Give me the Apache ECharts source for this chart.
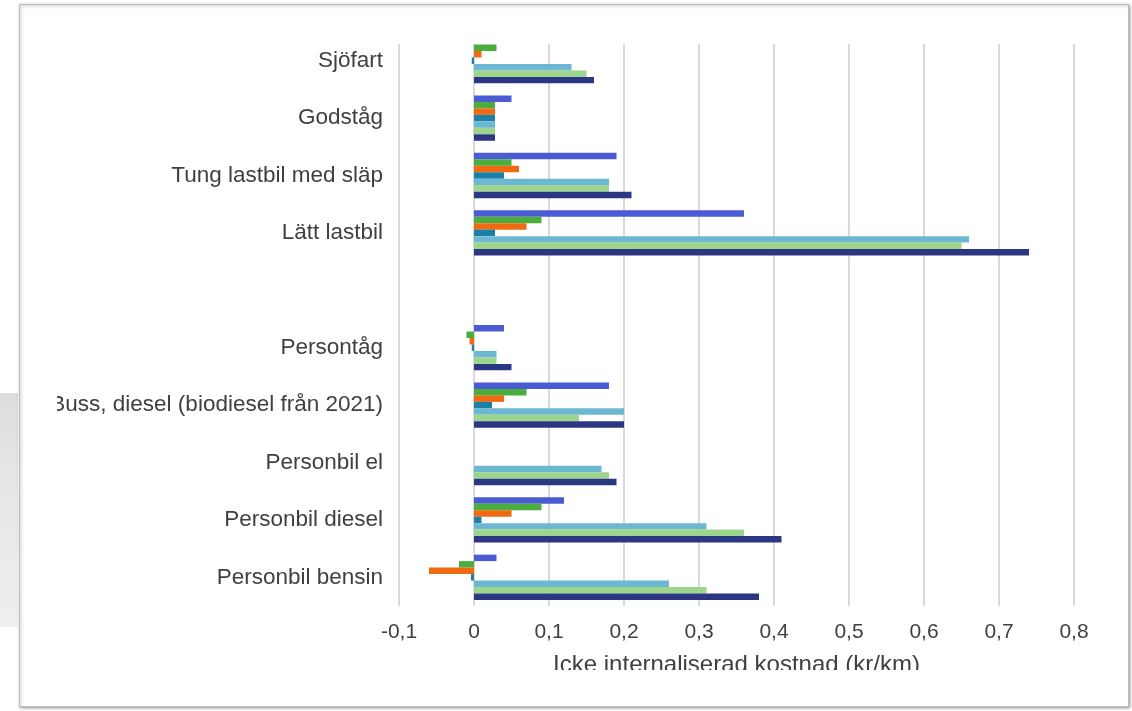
<!DOCTYPE html>
<html>
<head>
<meta charset="utf-8">
<script src="https://cdn.jsdelivr.net/npm/echarts@6/dist/echarts.min.js"></script>
<style>
  html, body { margin: 0; padding: 0; background: #ffffff; width: 1132px; height: 711px; overflow: hidden; }
  #side { position: absolute; left: 0; top: 393px; width: 18px; height: 234px;
          background: linear-gradient(180deg, #dcdcdc 0%, #e8e8e8 45%, #efefef 100%); }
  #card { position: absolute; left: 19px; top: 4px; width: 1108px; height: 701px;
          background: #ffffff; border: 1px solid #bdbdbd;
          box-shadow: 1px 1px 3px rgba(0,0,0,0.45), inset 2px 2px 3px rgba(0,0,0,0.12); }
  #clip { position: absolute; left: 57px; top: 44px; width: 1068px; height: 626px; overflow: hidden; }
  #chart { position: absolute; left: -57px; top: -44px; width: 1132px; height: 711px; }
</style>
</head>
<body>
<div id="side"></div>
<div id="card"></div>
<div id="clip"><div id="chart"></div></div>
<script>
// Transport modes, listed top to bottom; the empty entry separates freight from passenger traffic
const categories = ['Sjöfart', 'Godståg', 'Tung lastbil med släp', 'Lätt lastbil', '',
  'Persontåg', 'Buss, diesel (biodiesel från 2021)', 'Personbil el', 'Personbil diesel', 'Personbil bensin'];

// Non-internalised cost per km (kr/km), one array per cost series
const serieA = [0,      0.05,  0.19, 0.36,  null, 0.04,   0.18,  0,    0.12, 0.03];
const serieB = [0.03,   0.028, 0.05, 0.09,  null, -0.01,  0.07,  0,    0.09, -0.02];
const serieC = [0.01,   0.028, 0.06, 0.07,  null, -0.006, 0.04,  0,    0.05, -0.06];
const serieD = [-0.003, 0.028, 0.04, 0.028, null, -0.003, 0.024, 0,    0.01, -0.004];
const serieE = [0.13,   0.028, 0.18, 0.66,  null, 0.03,   0.2,   0.17, 0.31, 0.26];
const serieF = [0.15,   0.028, 0.18, 0.65,  null, 0.03,   0.14,  0.18, 0.36, 0.31];
const serieG = [0.16,   0.028, 0.21, 0.74,  null, 0.05,   0.2,   0.19, 0.41, 0.38];

const xTicks = [-0.1, 0, 0.1, 0.2, 0.3, 0.4, 0.5, 0.6, 0.7, 0.8];
const axisTitle = 'Icke internaliserad kostnad (kr/km)';

const seriesData = [serieA, serieB, serieC, serieD, serieE, serieF, serieG];
const colors = ['#4b5bd4', '#4aad3c', '#ef6a12', '#1c7fa6', '#6cb8d3', '#9dd58c', '#2c3784'];

const font = "'Liberation Sans', Arial, sans-serif";
const chart = echarts.init(document.getElementById('chart'), null, { renderer: 'canvas' });

chart.setOption({
  animation: false,
  backgroundColor: 'transparent',
  grid: { left: 399, right: 58, top: 32, bottom: 105, containLabel: false },
  xAxis: {
    type: 'value',
    min: xTicks[0],
    max: xTicks[xTicks.length - 1],
    interval: 0.1,
    axisLine: { show: false },
    axisTick: { show: false },
    splitLine: { show: true, lineStyle: { color: '#d9d9d9', width: 2 } },
    axisLabel: {
      color: '#404040', fontFamily: font, fontSize: 21, margin: 16,
      formatter: v => {
        const r = Math.round(v * 10) / 10;
        return r === 0 ? '0' : r.toFixed(1).replace('.', ',');
      }
    },
    name: axisTitle,
    nameLocation: 'middle',
    nameGap: 47,
    nameTextStyle: { color: '#404040', fontFamily: font, fontSize: 24 }
  },
  yAxis: {
    type: 'category',
    data: categories,
    inverse: true,
    axisLine: { show: false },
    axisTick: { show: false },
    splitLine: { show: false },
    axisLabel: { color: '#404040', fontFamily: font, fontSize: 22.5, margin: 16 }
  },
  series: seriesData.map((d, i) => ({
    type: 'bar',
    name: 'Serie ' + (i + 1),
    data: d,
    barGap: '0%',
    barCategoryGap: '21%',
    itemStyle: { color: colors[i] }
  }))
});
</script>
</body>
</html>
